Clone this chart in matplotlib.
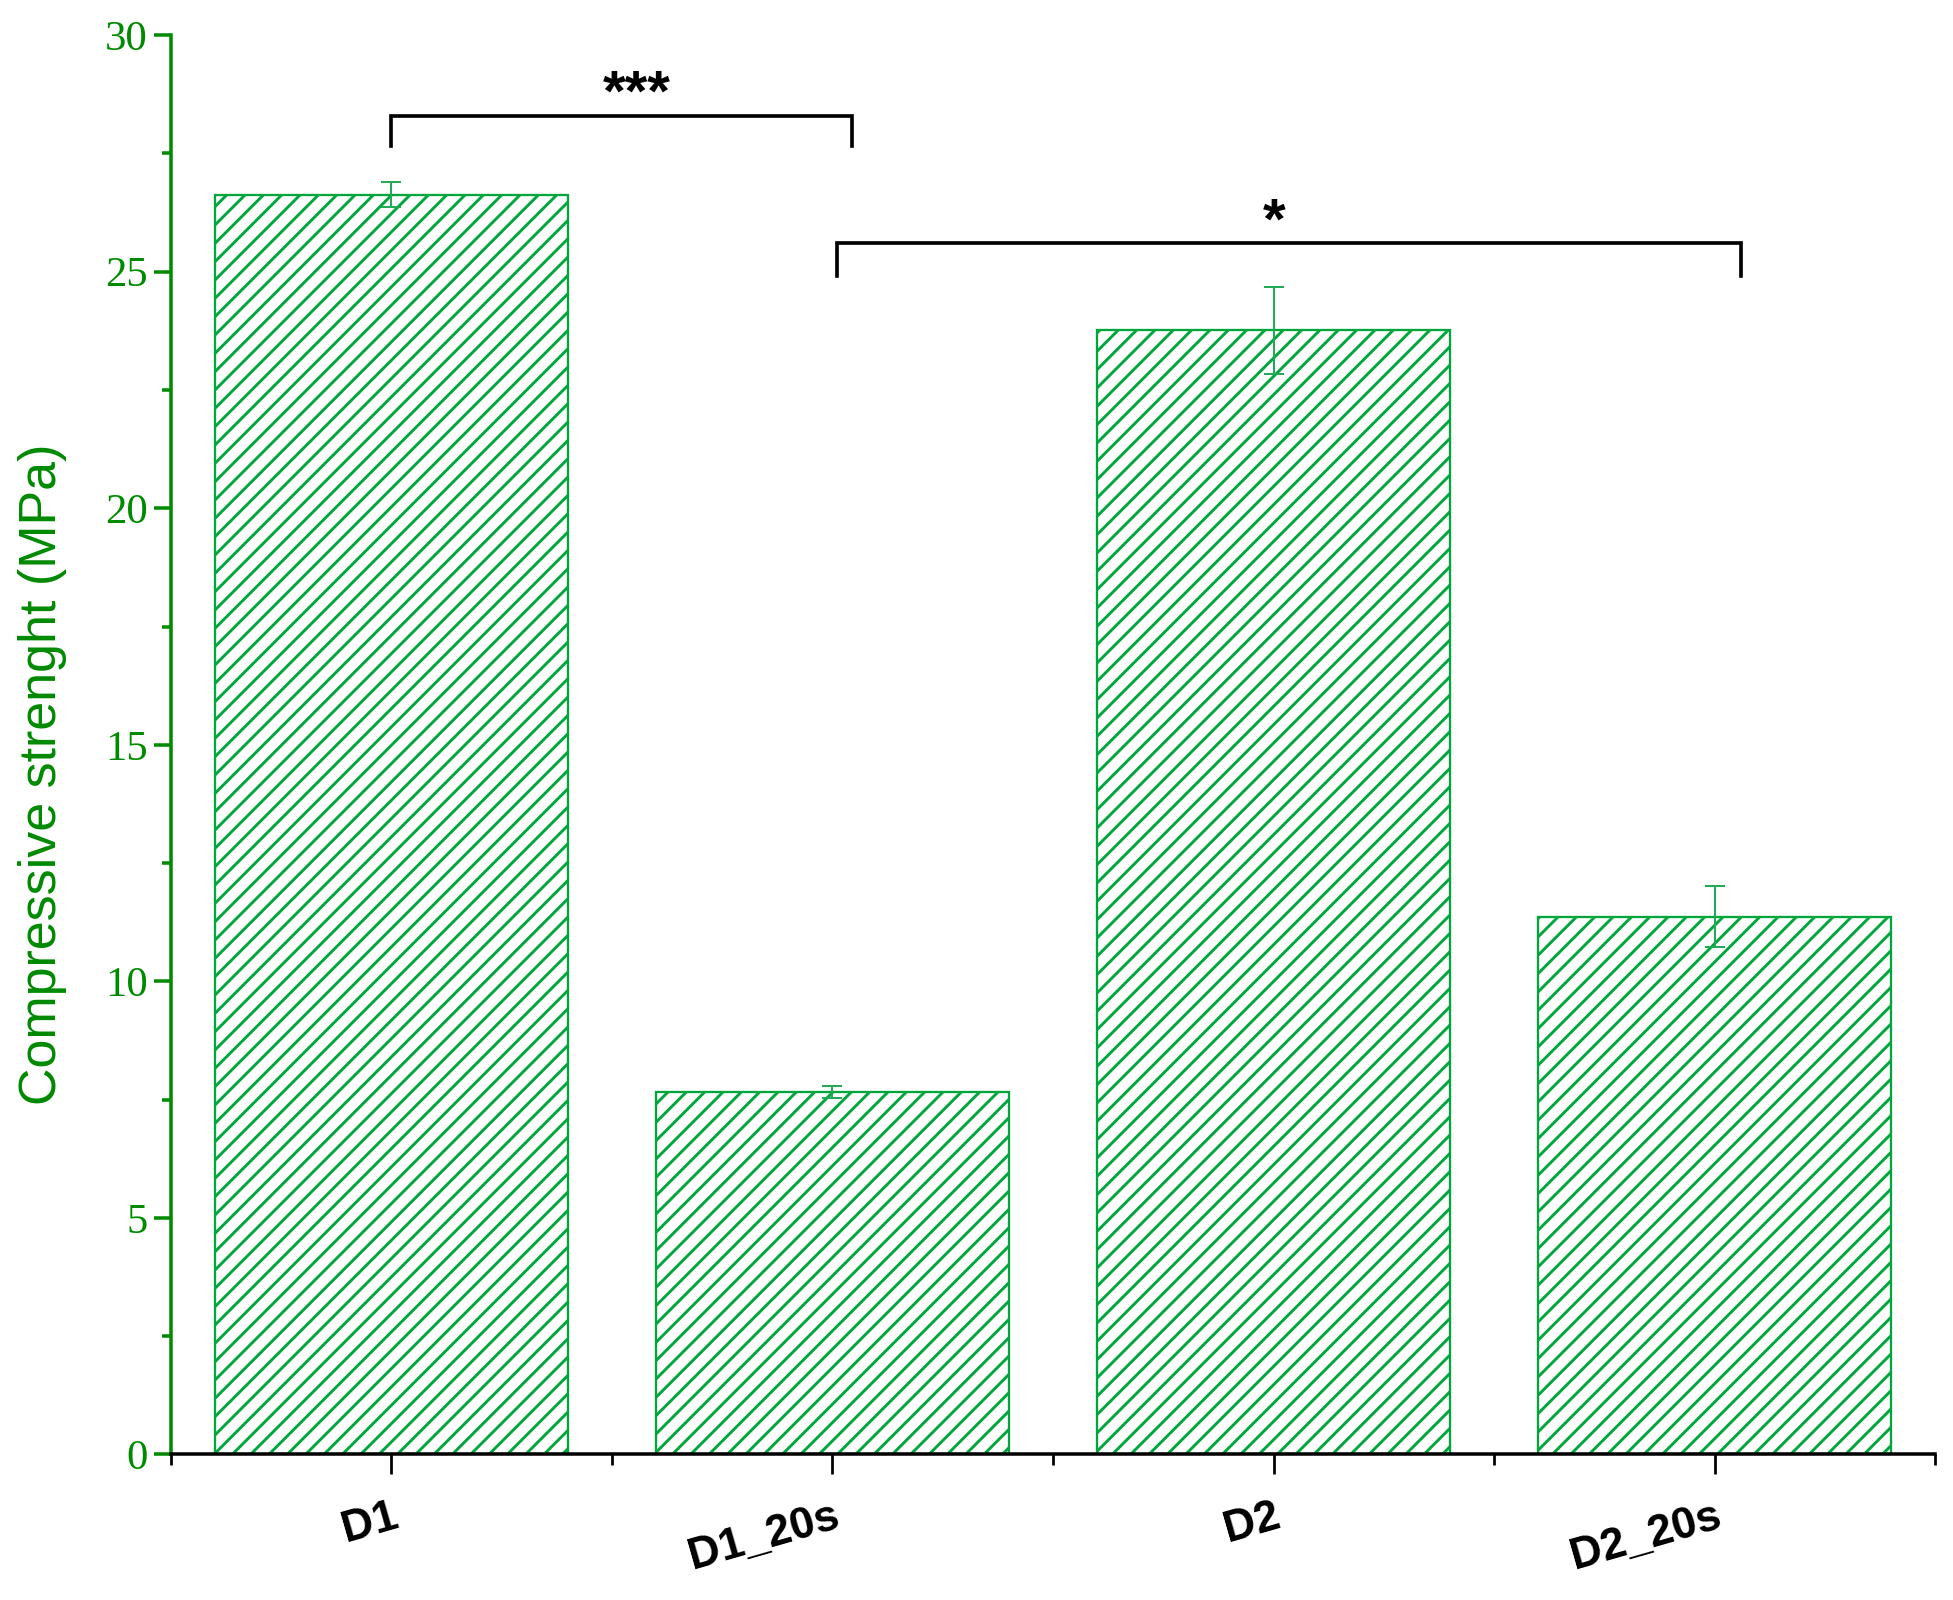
import numpy as np
import matplotlib
matplotlib.use('Agg')
import matplotlib.pyplot as plt
from matplotlib.ticker import MultipleLocator, FixedLocator

# 압축강도 데이터
groups = ['D1', 'D1_20s', 'D2', 'D2_20s']
strength = [26.63, 7.66, 23.76, 11.37]
strength_err = [0.27, 0.13, 0.92, 0.65]

# 유의성 표시 (왼쪽 위치, 오른쪽 위치, 높이, 기호)
sig_left = [1.0, 2.01]
sig_right = [2.045, 4.06]
sig_height = [28.3, 25.6]
sig_drop = [0.65, 0.7]
sig_text = ['***', '*']
sig_text_x = [1.556, 3.0]

green = '#008a00'
hatch_green = '#00a63c'

plt.rcParams['hatch.linewidth'] = 1.9
plt.rcParams['hatch.color'] = hatch_green

fig = plt.figure(figsize=(1953 / 110, 1600 / 110), dpi=110)
ax = fig.add_axes([0.0874, 0.091, 0.9036, 0.887])

x = np.arange(1, len(groups) + 1)
ax.bar(x, strength, width=0.8, facecolor='none', edgecolor=hatch_green,
       hatch='//', linewidth=1.5, zorder=2)
ax.errorbar(x, strength, yerr=strength_err, fmt='none', ecolor='#22aa55',
            elinewidth=1.3, capsize=6.5, capthick=1.3, zorder=3)

# 유의성 브래킷
for l, r, h, d, t, tx in zip(sig_left, sig_right, sig_height, sig_drop, sig_text, sig_text_x):
    ax.plot([l, l, r, r], [h - d, h, h, h - d], color='black', lw=2.4,
            solid_joinstyle='miter', zorder=4, clip_on=False)
    ax.text(tx, h - 0.15, t, ha='center', va='bottom',
            fontsize=38, fontweight='bold', family='Liberation Sans')

ax.set_xlim(0.5, 4.5)
ax.set_ylim(0, 30)

for s in ['top', 'right']:
    ax.spines[s].set_visible(False)
ax.spines['left'].set_color(green)
ax.spines['left'].set_linewidth(2.3)
ax.spines['bottom'].set_color('black')
ax.spines['bottom'].set_linewidth(2.3)

ax.yaxis.set_major_locator(MultipleLocator(5))
ax.yaxis.set_minor_locator(MultipleLocator(2.5))
ax.tick_params(axis='y', which='major', direction='out', length=11, width=2.3,
               color=green, labelcolor=green, labelsize=28, pad=4)
ax.tick_params(axis='y', which='minor', direction='out', length=6, width=2.3,
               color=green)
for lab in ax.get_yticklabels():
    lab.set_family('Liberation Serif')

ax.set_xticks(x)
ax.xaxis.set_minor_locator(FixedLocator([0.5, 1.5, 2.5, 3.5, 4.5]))
ax.tick_params(axis='x', which='major', direction='out', length=13, width=1.8,
               color='black', pad=14)
ax.tick_params(axis='x', which='minor', direction='out', length=7, width=1.8,
               color='black')
ax.set_xticklabels(groups, rotation=16, ha='right', rotation_mode='anchor',
                   fontsize=29, fontweight='bold', family='Liberation Sans')

ax.set_ylabel('Compressive strenght (MPa)', color=green, fontsize=34,
              family='Liberation Sans')
ax.yaxis.set_label_coords(-0.059, 0.479)

fig.savefig('out.png', dpi=110)
